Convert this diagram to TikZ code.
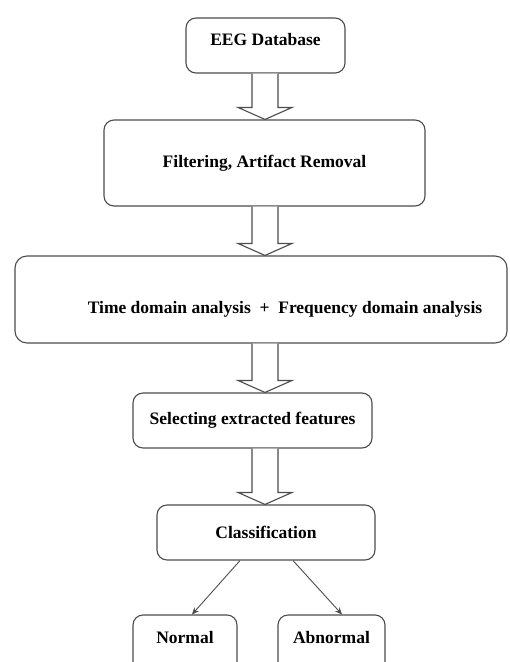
\documentclass[tikz,border=0pt]{standalone}
\usepackage{fontspec}
\setmainfont{Liberation Serif}
\usetikzlibrary{calc}
\usetikzlibrary{arrows.meta}

% hollow block arrow between two boxes, on the line of (mid)
\newcommand{\fatarrow}[2]{%
  \draw[fat] let \p1=(#1.south -| mid), \p2=(#2.north -| mid) in
    (\x1-13pt,\y1) -- (\x1-13pt,\y2+12pt) -- (\x1-27pt,\y2+12pt) -- (\x1,\y2)
    -- (\x1+27pt,\y2+12pt) -- (\x1+13pt,\y2+12pt) -- (\x1+13pt,\y1);}

\begin{document}
\begin{tikzpicture}[
    x=1pt,y=-1pt,
    box/.style={rectangle,rounded corners=10pt,draw=black!70,line width=1.1pt,
      inner sep=0pt,text centered,font=\fontsize{17.5pt}{20pt}\selectfont\bfseries},
    fat/.style={draw=black!70,line width=1.1pt,fill=white,line join=miter},
    arr/.style={draw=black!70,line width=0.9pt,-{Stealth[length=7pt,width=6pt]}}
    ]
    \useasboundingbox (0,0) rectangle (510,662);
    \coordinate (mid) at (265,0);
    \node (eeg) [box,minimum width=159pt,minimum height=55pt] at (265.5,45.5)
      {\raisebox{0pt}[0pt][0pt]{EEG Database}};
    \node (filt) [box,minimum width=321pt,minimum height=86pt] at (264.5,163) {Filtering, Artifact Removal};
    \node (time) [box,rounded corners=12pt,minimum width=492pt,minimum height=87pt] at (261,299.5)
      {\hspace*{48pt}\raisebox{-13.5pt}[0pt][0pt]{Time domain analysis \ + \ Frequency domain analysis}};
    \node (sel) [box,minimum width=239pt,minimum height=55pt] at (252.5,420.5) {Selecting extracted features};
    \node (cls) [box,minimum width=218pt,minimum height=55pt] at (266,532.5) {Classification};
    \node (norm) [box,minimum width=104pt,minimum height=70pt] at (185,650) {\raisebox{7pt}[0pt][0pt]{Normal}};
    \node (abn) [box,minimum width=107pt,minimum height=70pt] at (331.5,650) {\raisebox{7pt}[0pt][0pt]{Abnormal}};
    \fatarrow{eeg}{filt}
    \fatarrow{filt}{time}
    \fatarrow{time}{sel}
    \fatarrow{sel}{cls}
    \draw[arr] ([xshift=-26pt]cls.south) -- ([xshift=7pt]norm.north);
    \draw[arr] ([xshift=27pt]cls.south) -- ([xshift=10.5pt]abn.north);
  \end{tikzpicture}
\end{document}
